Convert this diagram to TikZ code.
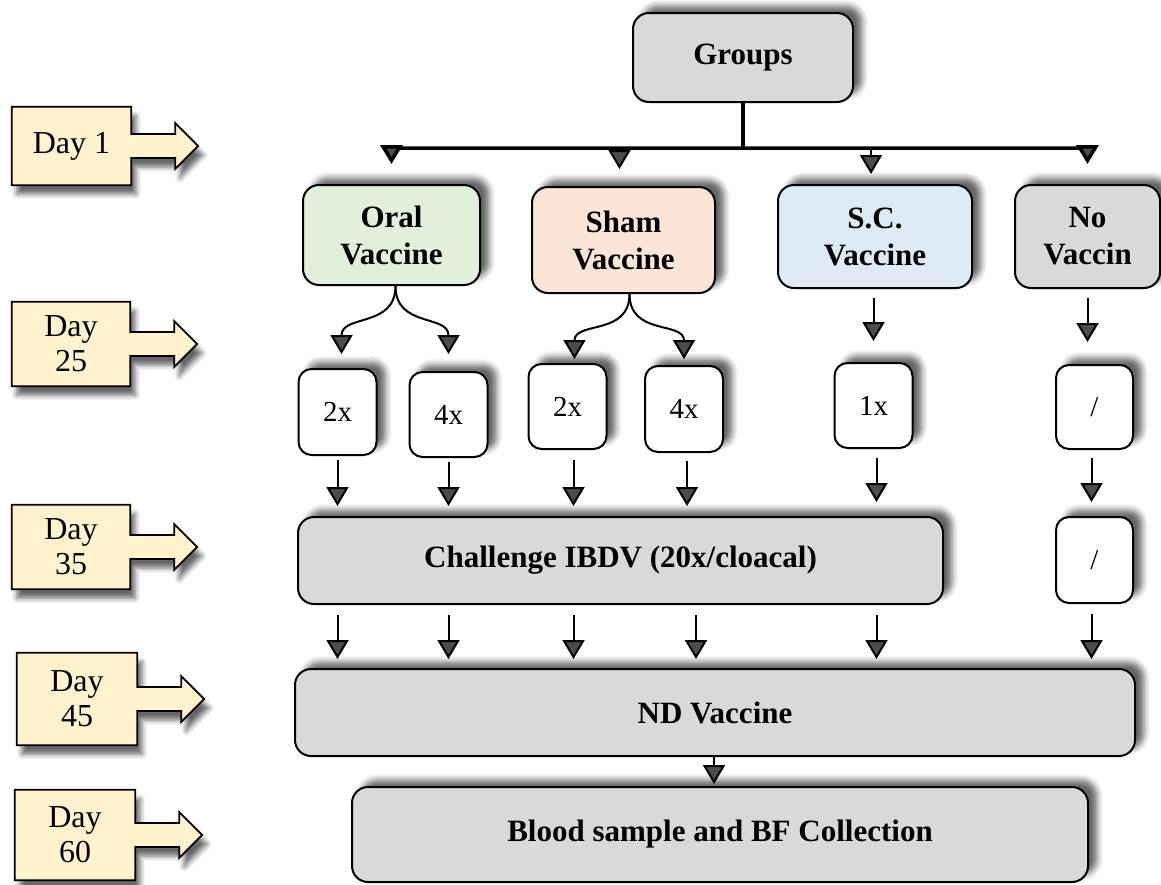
\documentclass[tikz,border=0pt]{standalone}
\usepackage{fontspec}
\setmainfont{Liberation Serif}
\usetikzlibrary{arrows.meta,shadows.blur}

\definecolor{dayyellow}{HTML}{FFF2CC}
\definecolor{boxgray}{HTML}{D9D9D9}
\definecolor{oralgreen}{HTML}{E2EFDA}
\definecolor{shampeach}{HTML}{FBE5D6}
\definecolor{scblue}{HTML}{DEEBF7}

% outline of a day marker: the label box with a block arrow on its right side
\newcommand\drawdaymarker[1]{%
  \path[daybody] (#1.north west) -- (#1.north east) -- ([yshift=12pt]#1.east)
    -- ++(44pt,0pt) -- ++(0pt,11pt) -- ++(23pt,-23pt) -- ++(-23pt,-23pt)
    -- ++(0pt,11pt) -- ++(-44pt,0pt) -- (#1.south east) -- (#1.south west) -- cycle;}

\tikzset{
  headtip/.tip={Triangle[width=22pt,length=19pt]}
}

\begin{document}
\begin{tikzpicture}[x=1pt,y=-1pt,
  upshadow/.style={blur shadow={shadow xshift=9pt,shadow yshift=7pt,
      shadow blur radius=6pt,shadow opacity=60}},
  box/.style={draw=black,line width=2pt,rounded corners=16pt,align=center,
      inner sep=0pt,font=\fontsize{31}{37}\selectfont\bfseries,upshadow},
  smallbox/.style={draw=black,line width=2pt,rounded corners=13pt,fill=white,
      inner sep=0pt,minimum width=78pt,minimum height=85pt,
      font=\fontsize{29}{32}\selectfont,upshadow},
  dayframe/.style={inner sep=0pt},
  daylabel/.style={inner sep=0pt,align=center,font=\fontsize{32}{35}\selectfont},
  daybody/.style={fill=dayyellow,draw=black,line width=1.8pt,line join=miter,
      blur shadow={shadow xshift=5pt,shadow yshift=-9pt,
      shadow blur radius=5pt,shadow opacity=60}},
  arr/.style={line width=2pt,-headtip},
  trunk/.style={line width=3.5pt},
  trunkarr/.style={line width=3.5pt,rounded corners=6pt,-headtip}]

\useasboundingbox (0,0) rectangle (1161,884);

% ---- time line on the left: frames, arrow outlines, then labels ----
\node[dayframe,minimum width=119pt,minimum height=78pt] (d1)  at (71.5,146) {};
\node[dayframe,minimum width=118pt,minimum height=84pt] (d25) at (71,344) {};
\node[dayframe,minimum width=118pt,minimum height=84pt] (d35) at (71,547) {};
\node[dayframe,minimum width=120pt,minimum height=92pt] (d45) at (77,699) {};
\node[dayframe,minimum width=120pt,minimum height=90pt] (d60) at (75,835) {};
\drawdaymarker{d1}
\drawdaymarker{d25}
\drawdaymarker{d35}
\drawdaymarker{d45}
\drawdaymarker{d60}
\node[daylabel] (t1)  at (d1)  {Day 1};
\node[daylabel] (t25) at (d25) {Day\\25};
\node[daylabel] (t35) at (d35) {Day\\35};
\node[daylabel] (t45) at (d45) {Day\\45};
\node[daylabel] (t60) at (d60) {Day\\60};

% ---- groups ----
\node[box,fill=boxgray,minimum width=220pt,minimum height=89pt] (groups) at (743,57.5) {Groups};
\node[box,fill=oralgreen,minimum width=177pt,minimum height=100pt] (oral) at (391.5,235) {Oral\\Vaccine};
\node[box,fill=shampeach,minimum width=183pt,minimum height=106pt] (sham) at (623.5,240) {Sham\\Vaccine};
\node[box,fill=scblue,minimum width=194pt,minimum height=103pt] (sc) at (875,236.5) {S.C.\\Vaccine};
\node[box,fill=boxgray,minimum width=145pt,minimum height=103pt] (novac) at (1087.5,236.5) {No\\Vaccin};

% ---- doses ----
\node[smallbox,minimum height=86pt] (o2x) at (337.5,412) {2x};
\node[smallbox] (o4x) at (448.5,414.5) {4x};
\node[smallbox] (s2x) at (567.5,406.5) {2x};
\node[smallbox,minimum height=86pt] (s4x) at (684,409) {4x};
\node[smallbox] (c1x) at (873.5,405.5) {1x};
\node[smallbox,minimum width=77pt,minimum height=84pt] (nslash) at (1094.5,407) {/};

% ---- challenge, ND vaccine, sampling ----
\node[box,fill=boxgray,minimum width=645pt,minimum height=87pt] (chal) at (620.5,560.5) {Challenge IBDV (20x/cloacal)};
\node[smallbox,minimum width=77pt,minimum height=86pt] (nslashb) at (1094.5,560) {/};
\node[box,fill=boxgray,minimum width=840pt,minimum height=87pt] (nd) at (715,712.5) {ND Vaccine};
\node[box,fill=boxgray,minimum width=736pt,minimum height=95pt] (blood) at (720,834.5) {Blood sample and BF Collection};

% ---- branching from the groups box ----
\coordinate (br) at (743,148);
\draw[trunk] (groups.south) -- (br);
\draw[trunkarr] (br) -| ([yshift=20pt]oral.north);
\draw[trunkarr] (br) -| ([yshift=20pt]novac.north);
\draw[arr] ([xshift=-4pt]sham.north |- br) -- ([xshift=-4pt,yshift=17pt]sham.north);
\draw[arr] ([xshift=-4pt]sc.north |- br) -- ([xshift=-4pt,yshift=10pt]sc.north);

% ---- split into doses ----
\draw[arr] ([xshift=4pt]oral.south) .. controls +(0,42) and +(0,-40) .. ([xshift=4pt,yshift=14pt]o2x.north);
\draw[arr] ([xshift=4pt]oral.south) .. controls +(0,42) and +(0,-40) .. ([yshift=17pt]o4x.north);
\draw[arr] ([xshift=6pt]sham.south) .. controls +(0,42) and +(0,-38) .. ([xshift=7pt,yshift=4pt]s2x.north);
\draw[arr] ([xshift=6pt]sham.south) .. controls +(0,42) and +(0,-38) .. ([yshift=6pt]s4x.north);
\draw[arr,shorten <=9pt,shorten >=21pt] (sc.south -| c1x) -- (c1x.north);
\draw[arr,shorten <=9pt,shorten >=22pt] (novac.south) -- (novac.south |- nslash.north);

% ---- doses to challenge ----
\draw[arr,shorten <=4pt,shorten >=10pt] (o2x.south) -- (o2x.south |- chal.north);
\draw[arr,shorten <=4pt,shorten >=10pt] (o4x.south) -- (o4x.south |- chal.north);
\draw[arr,shorten <=10pt,shorten >=10pt] ([xshift=6pt]s2x.south) -- ([xshift=6pt]s2x.south |- chal.north);
\draw[arr,shorten <=8pt,shorten >=10pt] ([xshift=3pt]s4x.south) -- ([xshift=3pt]s4x.south |- chal.north);
\draw[arr,shorten <=9pt,shorten >=14pt] ([xshift=3pt]c1x.south) -- ([xshift=3pt]c1x.south |- chal.north);
\draw[arr,shorten <=8pt,shorten >=14pt] ([xshift=-3pt]nslash.south) -- ([xshift=-3pt]nslashb.north);

% ---- challenge to ND vaccine ----
\draw[arr,shorten <=10pt,shorten >=9pt] (chal.south -| o2x) -- (nd.north -| o2x);
\draw[arr,shorten <=10pt,shorten >=9pt] (chal.south -| o4x) -- (nd.north -| o4x);
\draw[arr,shorten <=10pt,shorten >=9pt] ([xshift=6pt]chal.south -| s2x) -- ([xshift=6pt]nd.north -| s2x);
\draw[arr,shorten <=10pt,shorten >=9pt] ([xshift=12pt]chal.south -| s4x) -- ([xshift=12pt]nd.north -| s4x);
\draw[arr,shorten <=10pt,shorten >=9pt] ([xshift=3pt]chal.south -| c1x) -- ([xshift=3pt]nd.north -| c1x);
\draw[arr,shorten <=10pt,shorten >=9pt] ([xshift=-3pt]nslashb.south) -- ([xshift=-3pt]nd.north -| nslashb);

% ---- ND vaccine to sampling ----
\draw[arr,shorten >=2pt] ([xshift=-1pt]nd.south) -- ([xshift=-1pt]nd.south |- blood.north);

\end{tikzpicture}
\end{document}
